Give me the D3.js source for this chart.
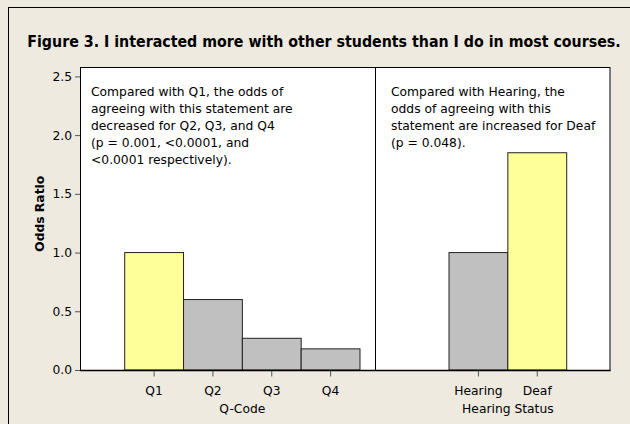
<!DOCTYPE html>
<html>
<head>
<meta charset="utf-8">
<script src="https://cdn.jsdelivr.net/npm/d3@7"></script>
<style>
  html, body { margin: 0; padding: 0; background: #eeeae0; }
  svg { display: block; }
</style>
</head>
<body>
<div id="chart"></div>
<script>
// data
const qCodes = ['Q1', 'Q2', 'Q3', 'Q4'];
const qOdds = [1.0, 0.60, 0.27, 0.18];
const qFill = ['#ffff99', '#c0c0c0', '#c0c0c0', '#c0c0c0'];

const hearingGroups = ['Hearing', 'Deaf'];
const hearingOdds = [1.0, 1.85];
const hearingFill = ['#c0c0c0', '#ffff99'];

const yTicks = [0, 0.5, 1.0, 1.5, 2.0, 2.5];

const titleText = 'Figure 3. I interacted more with other students than I do in most courses.';
const noteLeft = [
  'Compared with Q1, the odds of',
  'agreeing with this statement are',
  'decreased for Q2, Q3, and Q4',
  '(p = 0.001, <0.0001, and',
  '<0.0001 respectively).'
];
const noteRight = [
  'Compared with Hearing, the',
  'odds of agreeing with this',
  'statement are increased for Deaf',
  '(p = 0.048).'
];

const width = 630, height = 424;
const font = '"DejaVu Sans", Verdana, sans-serif';
const fs = '12.3px';

// plot box
const plot = { left: 80, top: 67, right: 610.5, bottom: 370, divide: 375 };

const svg = d3.select('#chart').append('svg')
  .attr('width', width)
  .attr('height', height);

// outer frame
svg.append('rect')
  .attr('x', 8.5).attr('y', 7.5)
  .attr('width', width)
  .attr('height', height)
  .attr('fill', '#eeeae0')
  .attr('stroke', '#000')
  .attr('stroke-width', 1);

// title
svg.append('text')
  .attr('x', 324)
  .attr('y', 47)
  .attr('text-anchor', 'middle')
  .style('font-family', '"DejaVu Sans Condensed", "DejaVu Sans", sans-serif')
  .style('font-weight', 'bold')
  .style('font-size', '15.8px')
  .text(titleText);

const y = d3.scaleLinear().domain([0, 2.58]).range([plot.bottom, plot.top]);

const xLeft = d3.scaleBand().domain(qCodes).range([124.7, 360]).padding(0);
const xRight = d3.scaleBand().domain(hearingGroups).range([449, 566.7]).padding(0);

// white data region
svg.append('rect')
  .attr('x', plot.left).attr('y', plot.top)
  .attr('width', plot.right - plot.left)
  .attr('height', plot.bottom - plot.top)
  .attr('fill', '#fff');

// bars
svg.append('g').selectAll('rect')
  .data(qCodes.map((d, i) => ({ key: d, v: qOdds[i], fill: qFill[i] })))
  .join('rect')
  .attr('x', d => xLeft(d.key))
  .attr('y', d => y(d.v))
  .attr('width', xLeft.bandwidth())
  .attr('height', d => y(0) - y(d.v))
  .attr('fill', d => d.fill)
  .attr('stroke', '#222')
  .attr('stroke-width', 1);

svg.append('g').selectAll('rect')
  .data(hearingGroups.map((d, i) => ({ key: d, v: hearingOdds[i], fill: hearingFill[i] })))
  .join('rect')
  .attr('x', d => xRight(d.key))
  .attr('y', d => y(d.v))
  .attr('width', xRight.bandwidth())
  .attr('height', d => y(0) - y(d.v))
  .attr('fill', d => d.fill)
  .attr('stroke', '#222')
  .attr('stroke-width', 1);

// plot border + divider
svg.append('rect')
  .attr('x', plot.left + 0.5).attr('y', plot.top + 0.5)
  .attr('width', plot.right - plot.left - 1)
  .attr('height', plot.bottom - plot.top)
  .attr('fill', 'none')
  .attr('stroke', '#000')
  .attr('stroke-width', 1);

svg.append('line')
  .attr('x1', plot.divide + 0.5).attr('x2', plot.divide + 0.5)
  .attr('y1', plot.top).attr('y2', plot.bottom)
  .attr('stroke', '#000');

// axes
const yAxis = svg.append('g')
  .attr('transform', `translate(${plot.left},0)`)
  .call(d3.axisLeft(y).tickValues(yTicks).tickFormat(d3.format('.1f')).tickSize(5).tickPadding(3));

const xAxisL = svg.append('g')
  .attr('transform', `translate(0,${plot.bottom + 0.5})`)
  .call(d3.axisBottom(xLeft).tickSize(6).tickPadding(10));

const xAxisR = svg.append('g')
  .attr('transform', `translate(0,${plot.bottom + 0.5})`)
  .call(d3.axisBottom(xRight).tickSize(6).tickPadding(10));

[yAxis, xAxisL, xAxisR].forEach(g => {
  g.select('.domain').remove();
  g.selectAll('line').attr('stroke', '#555');
  g.selectAll('text')
    .style('font-family', font)
    .style('font-size', fs)
    .attr('fill', '#000');
});

// bottom axis line
svg.append('line')
  .attr('x1', plot.left).attr('x2', plot.right)
  .attr('y1', plot.bottom + 0.5).attr('y2', plot.bottom + 0.5)
  .attr('stroke', '#000')
  .attr('stroke-width', 1.5);

// axis titles
svg.append('text')
  .attr('transform', `translate(44,${y(1.33)}) rotate(-90)`)
  .attr('text-anchor', 'middle')
  .style('font-family', font)
  .style('font-weight', 'bold')
  .style('font-size', fs)
  .text('Odds Ratio');

svg.append('text')
  .attr('x', (xLeft.range()[0] + xLeft.range()[1]) / 2)
  .attr('y', 413)
  .attr('text-anchor', 'middle')
  .style('font-family', font)
  .style('font-size', fs)
  .text('Q-Code');

svg.append('text')
  .attr('x', (xRight.range()[0] + xRight.range()[1]) / 2)
  .attr('y', 413)
  .attr('text-anchor', 'middle')
  .style('font-family', font)
  .style('font-size', fs)
  .text('Hearing Status');

// annotations
function note(lines, x) {
  const t = svg.append('text')
    .attr('x', x)
    .attr('y', 96)
    .style('font-family', font)
    .style('font-size', fs);
  t.selectAll('tspan')
    .data(lines)
    .join('tspan')
    .attr('x', x)
    .attr('dy', (d, i) => i === 0 ? 0 : 17)
    .text(d => d);
}
note(noteLeft, 91);
note(noteRight, 391);
</script>
</body>
</html>
